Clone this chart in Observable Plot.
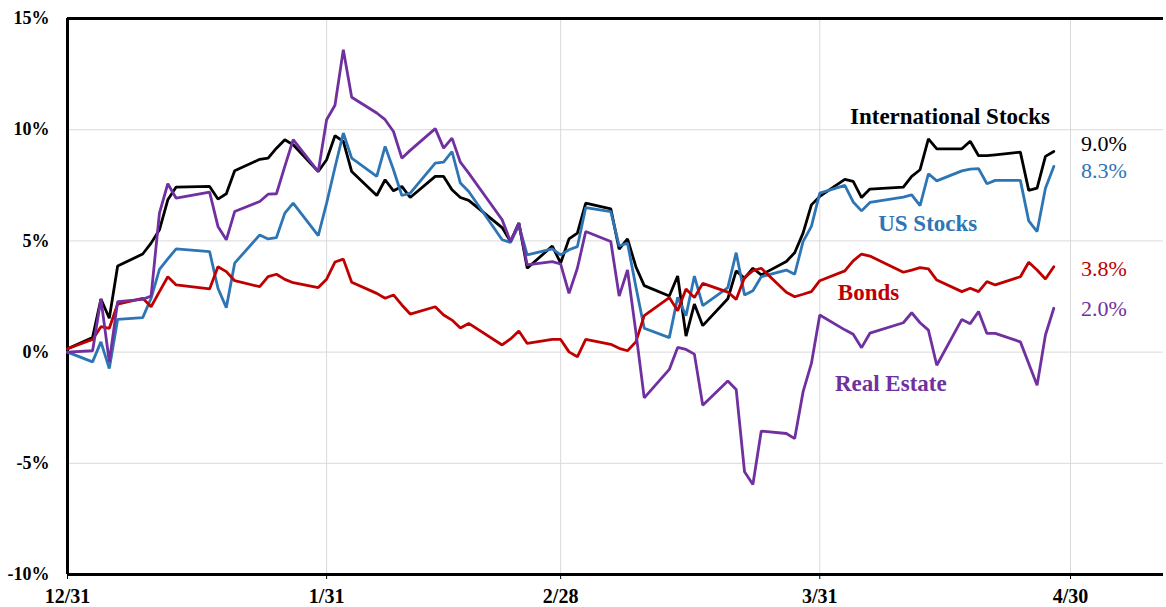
<!DOCTYPE html>
<html><head><meta charset="utf-8">
<script src="https://cdn.jsdelivr.net/npm/d3@7"></script>
<script src="https://cdn.jsdelivr.net/npm/@observablehq/plot@0.6"></script>
<style>body{margin:0;background:#fff;} #chart{width:1166px;height:607px;}</style>
</head><body><div id="chart"></div>
<script>
const dates = ["2022-12-31","2023-01-03","2023-01-04","2023-01-05","2023-01-06","2023-01-09","2023-01-10","2023-01-11","2023-01-12","2023-01-13","2023-01-17","2023-01-18","2023-01-19","2023-01-20","2023-01-23","2023-01-24","2023-01-25","2023-01-26","2023-01-27","2023-01-30","2023-01-31","2023-02-01","2023-02-02","2023-02-03","2023-02-06","2023-02-07","2023-02-08","2023-02-09","2023-02-10","2023-02-13","2023-02-14","2023-02-15","2023-02-16","2023-02-17","2023-02-21","2023-02-22","2023-02-23","2023-02-24","2023-02-27","2023-02-28","2023-03-01","2023-03-02","2023-03-03","2023-03-06","2023-03-07","2023-03-08","2023-03-09","2023-03-10","2023-03-13","2023-03-14","2023-03-15","2023-03-16","2023-03-17","2023-03-20","2023-03-21","2023-03-22","2023-03-23","2023-03-24","2023-03-27","2023-03-28","2023-03-29","2023-03-30","2023-03-31","2023-04-03","2023-04-04","2023-04-05","2023-04-06","2023-04-10","2023-04-11","2023-04-12","2023-04-13","2023-04-14","2023-04-17","2023-04-18","2023-04-19","2023-04-20","2023-04-21","2023-04-24","2023-04-25","2023-04-26","2023-04-27","2023-04-28"];
const intlStocks = [0.15,0.66,2.39,1.52,3.87,4.41,4.9,5.5,6.85,7.42,7.45,6.88,7.12,8.15,8.67,8.72,9.17,9.55,9.32,8.12,8.65,9.73,9.47,8.12,7.04,7.75,7.25,7.45,6.95,7.9,7.9,7.3,6.95,6.82,5.6,4.97,5.8,3.77,4.77,4.0,5.09,5.35,6.7,6.44,4.63,5.09,3.84,2.99,2.52,3.42,0.72,2.16,1.19,2.4,3.65,3.32,3.77,3.47,4.07,4.47,5.35,6.62,7.0,7.77,7.68,6.95,7.33,7.42,7.9,8.2,9.59,9.14,9.14,9.48,8.83,8.83,8.87,8.99,7.27,7.37,8.8,9.02];
const usStocks = [0,-0.44,0.46,-0.74,1.47,1.55,2.42,3.72,4.19,4.64,4.52,2.87,2.0,4.0,5.27,5.09,5.15,6.25,6.7,5.24,6.7,8.3,9.85,8.72,7.9,9.25,8.2,7.04,7.15,8.5,8.54,9.02,7.6,7.22,5.05,4.93,5.7,4.37,4.64,4.37,4.6,4.74,6.5,6.32,4.77,4.9,2.94,1.07,0.65,2.46,1.64,3.42,2.09,2.9,4.47,2.57,2.76,3.39,3.69,3.5,4.97,5.65,7.15,7.5,6.75,6.35,6.73,6.97,7.07,6.59,8.02,7.7,8.15,8.23,8.25,7.57,7.72,7.72,5.9,5.42,7.37,8.35];
const bonds = [0.15,0.57,1.14,1.07,2.16,2.42,2.04,2.72,3.39,3.02,2.84,3.84,3.62,3.21,2.94,3.39,3.5,3.27,3.12,2.9,3.28,4.05,4.18,3.14,2.64,2.42,2.57,2.12,1.71,2.04,1.67,1.44,1.08,1.29,0.32,0.59,0.95,0.39,0.57,0.57,0.01,-0.21,0.57,0.35,0.17,0.06,0.46,1.64,2.45,1.86,2.84,2.45,3.09,2.7,2.37,3.35,3.66,3.77,2.69,2.49,2.6,2.72,3.21,3.65,4.1,4.41,4.32,3.59,3.69,3.8,3.74,3.24,2.72,2.87,2.72,3.17,3.02,3.39,4.04,3.69,3.29,3.84];
const realEstate = [0,0.06,2.39,-0.44,2.27,2.37,2.52,6.25,7.57,6.92,7.19,5.65,5.05,6.32,6.77,7.1,7.12,8.35,9.55,8.12,10.45,11.1,13.6,11.46,10.75,10.45,9.92,8.72,9.07,10.05,9.17,9.62,8.54,8.05,5.95,4.97,5.8,3.92,4.07,3.96,2.64,3.77,5.42,4.97,2.52,3.69,0.9,-2.06,-0.78,0.21,0.12,-0.09,-2.39,-1.3,-1.68,-5.38,-5.95,-3.55,-3.66,-3.89,-1.79,-0.51,1.67,1.0,0.8,0.2,0.85,1.32,1.77,1.32,0.99,-0.59,1.47,1.28,1.82,0.84,0.84,0.46,-0.51,-1.49,0.77,1.97];

const seriesNames = ["International Stocks","US Stocks","Bonds","Real Estate"];
const seriesColors = ["#000000","#2E75B6","#C00000","#7030A0"];
const yTicks = [-10,-5,0,5,10,15];
const yGrid = [-5,0,5,10];
const xTickDates = ["2022-12-31","2023-01-31","2023-02-28","2023-03-31","2023-04-30"];
const xDomain = ["2022-12-31T00:00Z","2023-05-11T03:00Z"];

// in-chart series labels
const nameLabelDates = ["2023-04-15T14:00Z","2023-04-12T22:00Z","2023-04-05T20:00Z","2023-04-08T12:00Z"];
const nameLabelValues = [10.57, 5.77, 2.67, -1.41];
// end-value labels
const endLabels = ["9.0%","8.3%","3.8%","2.0%"];
const endLabelValues = [9.36, 8.15, 3.75, 1.95];
const endLabelDate = "2023-05-04T00:00Z";
const endLabelWeights = ["normal","normal","bold","normal"];

const parse = s => new Date(s.length === 10 ? s + "T00:00Z" : s);
const allSeries = [intlStocks, usStocks, bonds, realEstate];
const rows = [];
allSeries.forEach((vals, si) => vals.forEach((v, i) => rows.push({date: parse(dates[i]), value: v, series: seriesNames[si]})));
const nameRows = seriesNames.map((n, i) => ({name: n, date: parse(nameLabelDates[i]), value: nameLabelValues[i], color: seriesColors[i]}));
const endRows = endLabels.map((t, i) => ({text: t, date: parse(endLabelDate), value: endLabelValues[i], color: seriesColors[i], weight: endLabelWeights[i]}));

const font = "'Liberation Serif', 'Times New Roman', serif";
const chart = Plot.plot({
  width: 1166,
  height: 607,
  marginLeft: 67,
  marginRight: 3,
  marginTop: 18,
  marginBottom: 33,
  style: {fontFamily: font, background: "#fff"},
  x: {type: "utc", domain: xDomain.map(parse), label: null},
  y: {domain: [-10, 15], label: null},
  color: {domain: seriesNames, range: seriesColors},
  marks: [
    Plot.ruleY(yGrid, {stroke: "#d9d9d9", strokeWidth: 1}),
    Plot.ruleX(xTickDates.slice(1).map(parse), {stroke: "#d9d9d9", strokeWidth: 1}),
    Plot.axisY({ticks: yTicks, tickSize: 0, tickPadding: 18, tickFormat: d => d + "%", fontSize: 18, fontWeight: "bold", fill: "#000", label: null}),
    Plot.axisX({ticks: xTickDates.map(parse), tickSize: 5, tickPadding: 9, tickFormat: d3.utcFormat("%-m/%-d"), fontSize: 20, fontWeight: "bold", fill: "#000", stroke: "#000", label: null}),
    Plot.ruleY([yTicks[yTicks.length - 1]], {stroke: "#000", strokeWidth: 3}),
    Plot.ruleY([yTicks[0]], {stroke: "#000", strokeWidth: 3}),
    Plot.ruleX([parse(xTickDates[0])], {stroke: "#000", strokeWidth: 3}),
    Plot.lineY(rows, {x: "date", y: "value", z: "series", stroke: "series", strokeWidth: 2.8, strokeLinejoin: "miter"}),
    Plot.text(nameRows, {x: "date", y: "value", text: "name", fill: "color", stroke: "white", strokeWidth: 9, fontSize: 23, fontWeight: "bold"}),
    Plot.text(endRows, {x: "date", y: "value", text: "text", fill: "color", fontSize: 22, fontWeight: d => d.weight})
  ]
});
document.getElementById("chart").appendChild(chart);
</script>
</body></html>
